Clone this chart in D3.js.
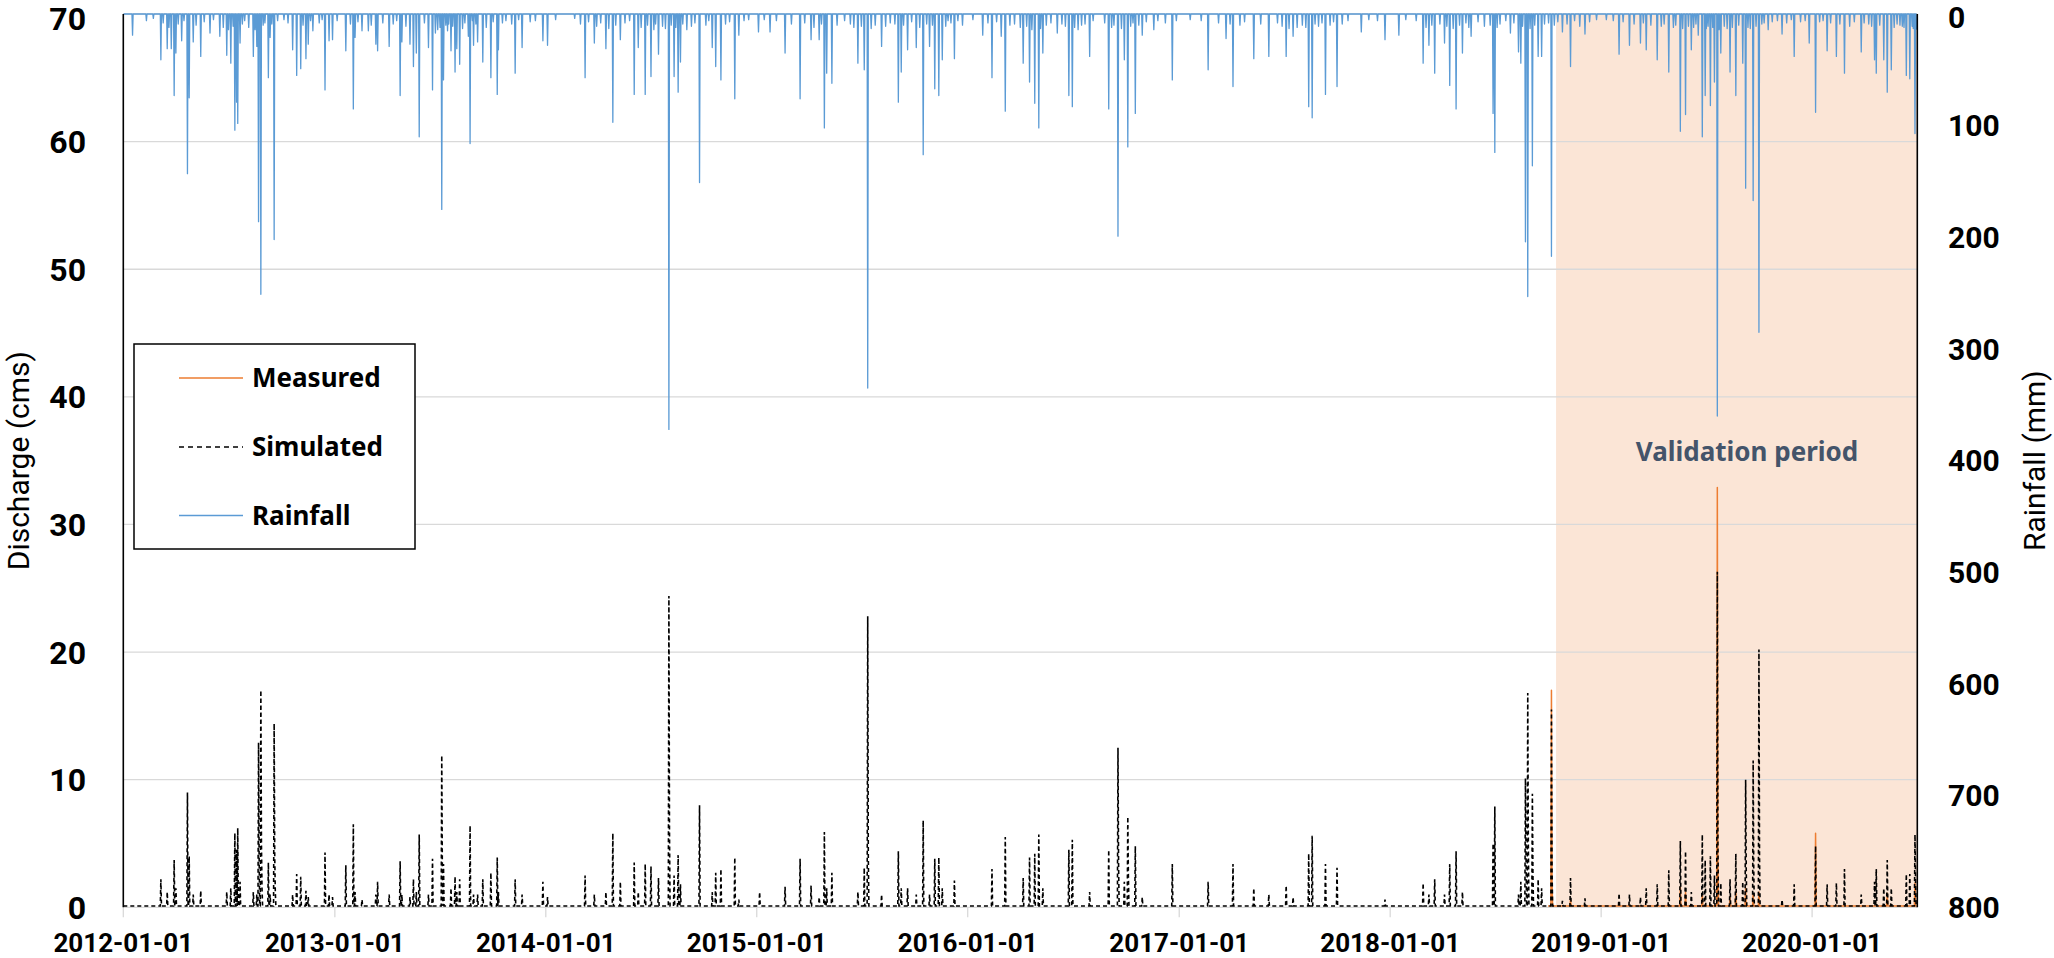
<!DOCTYPE html>
<html><head><meta charset="utf-8">
<script src="https://cdn.jsdelivr.net/npm/d3@7"></script>
<style>body{margin:0;background:#fff;} svg{display:block;font-family:"Noto Sans",sans-serif;} .tk{font-family:Roboto,"Noto Sans",sans-serif;}</style>
</head><body><svg id="c" width="2054" height="958"></svg>
<script>
// ---------------- DATA ----------------
const startDate = "2012-01-01";
const endDate = "2020-07-01";
const validationStart = "2018-10-15";
const measuredStart = "2018-10-01";
const xTickLabels = ["2012-01-01","2013-01-01","2014-01-01","2015-01-01","2016-01-01","2017-01-01","2018-01-01","2019-01-01","2020-01-01"];
const leftTicks = [0,10,20,30,40,50,60,70];
const rightTicks = [0,100,200,300,400,500,600,700,800];
const seriesNames = ["Measured","Simulated","Rainfall"];

// daily rainfall events (mm); unlisted days = 0
const rainMajor = [
["2012-01-17",19],["2012-03-06",41],["2012-03-17",31],["2012-03-24",31],["2012-03-29",73],["2012-04-01",35],["2012-04-11",24],["2012-04-21",143],["2012-04-24",75],["2012-05-01",25],["2012-05-14",38],["2012-05-30",17],["2012-06-16",20],["2012-06-28",37],["2012-07-05",44],["2012-07-12",104],["2012-07-15",79],["2012-07-17",98],["2012-07-21",26],["2012-08-13",38],["2012-08-19",29],["2012-08-22",186],["2012-08-26",251],["2012-09-08",57],["2012-09-11",21],["2012-09-18",202],["2012-10-20",32],["2012-10-27",55],["2012-11-03",49],["2012-11-12",40],["2012-11-16",27],["2012-11-24",15],["2012-12-15",68],["2012-12-22",24],["2012-12-28",23],
["2013-01-20",33],["2013-02-02",85],["2013-02-05",21],["2013-02-17",15],["2013-02-28",15],["2013-03-13",27],["2013-03-16",33],["2013-04-05",29],["2013-04-24",73],["2013-04-27",25],["2013-05-11",27],["2013-05-17",47],["2013-05-22",35],["2013-05-27",110],["2013-06-12",30],["2013-06-19",68],["2013-06-24",17],["2013-07-05",175],["2013-07-08",59],["2013-07-21",33],["2013-07-28",52],["2013-07-31",31],["2013-08-05",45],["2013-08-20",20],["2013-08-23",116],["2013-08-29",28],["2013-09-05",25],["2013-09-14",43],["2013-09-28",57],["2013-10-09",72],["2013-10-11",32],["2013-11-09",53],["2013-11-21",30],["2013-12-27",24],
["2014-01-04",28],["2014-03-10",57],["2014-03-26",26],["2014-04-15",31],["2014-04-27",97],["2014-05-10",23],["2014-06-03",72],["2014-06-10",30],["2014-06-22",72],["2014-07-02",56],["2014-07-15",36],["2014-08-02",372],["2014-08-11",56],["2014-08-18",70],["2014-08-22",43],["2014-09-24",151],["2014-10-16",30],["2014-10-22",47],["2014-10-31",59],["2014-11-24",76],["2014-12-01",19],
["2015-01-04",16],["2015-01-24",16],["2015-02-19",35],["2015-03-17",76],["2015-04-05",23],["2015-04-19",23],["2015-04-28",102],["2015-05-02",53],["2015-05-11",62],["2015-06-25",44],["2015-07-06",50],["2015-07-12",335],["2015-08-05",29],["2015-09-03",79],["2015-09-08",52],["2015-09-19",32],["2015-10-04",30],["2015-10-16",126],["2015-10-27",29],["2015-11-05",67],["2015-11-12",73],["2015-11-18",41],["2015-12-09",40],["2015-12-23",10],
["2016-01-27",19],["2016-02-12",57],["2016-02-28",20],["2016-03-06",87],["2016-04-06",44],["2016-04-17",61],["2016-04-26",80],["2016-05-03",102],["2016-05-10",35],["2016-06-04",17],["2016-06-24",73],["2016-06-30",83],["2016-07-30",38],["2016-09-01",85],["2016-09-17",199],["2016-09-28",41],["2016-10-04",119],["2016-10-17",89],["2016-10-29",19],["2016-11-18",14],["2016-12-20",59],
["2017-02-20",50],["2017-03-23",22],["2017-04-04",65],["2017-05-10",40],["2017-06-05",38],["2017-07-05",38],["2017-07-17",20],["2017-08-13",83],["2017-08-19",93],["2017-09-11",72],["2017-10-01",65],["2017-11-12",16],["2017-12-23",23],
["2018-01-16",19],["2018-02-27",44],["2018-03-09",28],["2018-03-19",53],["2018-04-05",26],["2018-04-14",64],["2018-04-25",85],["2018-05-06",35],["2018-05-21",20],["2018-06-13",11],["2018-06-28",89],["2018-07-01",124],["2018-07-28",17],["2018-08-11",34],["2018-08-15",44],["2018-08-23",204],["2018-08-27",253],["2018-09-04",136],["2018-09-14",38],["2018-09-20",38],["2018-10-07",217],["2018-10-26",16],["2018-11-09",47],["2018-11-25",11],["2018-12-04",18],
["2019-02-01",36],["2019-02-19",28],["2019-03-10",26],["2019-03-20",32],["2019-04-08",41],["2019-04-28",52],["2019-05-18",105],["2019-05-27",90],["2019-06-06",32],["2019-06-18",19],["2019-06-25",110],["2019-06-30",73],["2019-07-09",82],["2019-07-16",61],["2019-07-21",360],["2019-07-27",35],["2019-08-12",52],["2019-08-22",73],["2019-09-03",44],["2019-09-08",156],["2019-09-21",167],["2019-10-01",285],["2019-10-17",14],["2019-11-10",18],["2019-12-01",38],["2019-12-27",26],
["2020-01-07",88],["2020-01-27",33],["2020-02-12",38],["2020-02-26",53],["2020-03-06",11],["2020-03-26",34],["2020-04-18",41],["2020-04-21",53],["2020-05-04",41],["2020-05-10",70],["2020-05-17",50],["2020-06-05",11],["2020-06-12",55],["2020-06-18",58],["2020-06-27",107]
];
const rainMinor = [
["2012-02-10",6],["2012-02-22",4],["2012-03-10",8],["2012-03-20",12],["2012-04-05",9],["2012-04-15",6],["2012-05-06",10],["2012-05-20",7],["2012-06-05",5],["2012-06-22",12],["2012-07-01",14],["2012-07-09",11],["2012-07-25",9],["2012-07-29",6],["2012-08-05",12],["2012-08-16",14],["2012-08-30",10],["2012-09-02",8],["2012-09-14",9],["2012-09-24",6],["2012-10-05",5],["2012-10-12",8],["2012-11-07",10],["2012-11-20",6],["2012-12-05",8],["2012-12-10",5],
["2013-01-05",6],["2013-01-28",9],["2013-02-10",7],["2013-03-05",10],["2013-03-25",8],["2013-04-12",9],["2013-04-18",6],["2013-05-04",11],["2013-06-05",8],["2013-06-28",14],["2013-07-02",12],["2013-07-12",10],["2013-07-15",15],["2013-07-17",9],["2013-07-24",11],["2013-08-10",13],["2013-08-14",8],["2013-08-27",6],["2013-09-02",9],["2013-09-20",12],["2013-10-02",7],["2013-10-18",8],["2013-10-24",6],["2013-11-03",9],["2013-11-15",5],["2013-12-05",7],["2013-12-14",6],
["2014-01-18",5],["2014-02-20",4],["2014-03-02",9],["2014-03-16",7],["2014-03-30",11],["2014-04-06",8],["2014-04-20",13],["2014-05-02",10],["2014-05-18",8],["2014-05-26",6],["2014-06-15",12],["2014-06-26",10],["2014-07-07",14],["2014-07-10",9],["2014-07-22",11],["2014-07-27",13],["2014-08-06",10],["2014-08-14",12],["2014-08-26",9],["2014-09-02",14],["2014-09-10",11],["2014-09-16",8],["2014-10-05",10],["2014-10-10",6],["2014-11-08",9],["2014-11-15",7],["2014-12-10",6],["2014-12-18",5],
["2015-01-14",5],["2015-02-04",6],["2015-03-02",9],["2015-03-25",8],["2015-04-10",12],["2015-04-23",9],["2015-05-20",10],["2015-06-02",6],["2015-06-12",9],["2015-06-18",12],["2015-07-01",11],["2015-07-18",13],["2015-07-25",10],["2015-08-12",11],["2015-08-20",8],["2015-08-28",9],["2015-09-12",10],["2015-09-26",7],["2015-10-10",12],["2015-10-22",9],["2015-11-01",10],["2015-11-24",11],["2015-11-28",6],["2015-12-03",8],["2015-12-15",6],
["2016-01-10",5],["2016-02-05",8],["2016-02-20",7],["2016-03-14",10],["2016-03-22",9],["2016-04-01",12],["2016-04-12",11],["2016-04-21",14],["2016-05-06",13],["2016-05-16",10],["2016-05-24",8],["2016-06-12",9],["2016-06-18",11],["2016-07-04",12],["2016-07-10",14],["2016-07-16",10],["2016-07-22",9],["2016-08-05",6],["2016-08-25",8],["2016-09-06",12],["2016-09-10",10],["2016-09-23",13],["2016-10-09",11],["2016-10-13",8],["2016-10-23",10],["2016-11-05",7],["2016-11-25",6],["2016-12-08",8],["2016-12-27",6],
["2017-01-20",5],["2017-02-08",6],["2017-03-10",8],["2017-03-30",9],["2017-04-16",10],["2017-04-24",7],["2017-05-22",9],["2017-06-20",8],["2017-06-28",11],["2017-07-10",13],["2017-07-24",12],["2017-08-02",10],["2017-08-08",12],["2017-08-24",9],["2017-08-30",11],["2017-09-05",8],["2017-09-19",10],["2017-09-25",7],["2017-10-10",9],["2017-10-20",6],["2017-11-25",5],["2017-12-10",6],
["2018-01-28",5],["2018-02-15",6],["2018-03-04",12],["2018-03-14",10],["2018-03-28",9],["2018-04-09",11],["2018-04-20",13],["2018-05-01",10],["2018-05-12",8],["2018-05-17",12],["2018-06-02",7],["2018-06-23",10],["2018-07-05",12],["2018-07-10",9],["2018-07-20",6],["2018-08-03",8],["2018-08-18",11],["2018-08-31",13],["2018-09-08",10],["2018-09-25",9],["2018-10-02",8],["2018-10-12",10],["2018-10-18",7],["2018-11-03",9],["2018-11-16",6],["2018-12-12",7],["2018-12-24",5],
["2019-01-10",5],["2019-01-22",6],["2019-02-08",7],["2019-02-27",9],["2019-03-15",8],["2019-03-28",10],["2019-04-15",11],["2019-04-20",9],["2019-05-06",12],["2019-05-10",10],["2019-05-22",13],["2019-06-01",11],["2019-06-10",12],["2019-06-14",9],["2019-07-02",13],["2019-07-05",11],["2019-07-13",12],["2019-07-24",14],["2019-08-02",11],["2019-08-07",13],["2019-08-16",12],["2019-08-27",10],["2019-09-12",12],["2019-09-16",13],["2019-09-26",11],["2019-10-06",9],["2019-10-10",8],["2019-10-24",7],["2019-11-02",6],["2019-11-18",8],["2019-11-26",5],["2019-12-12",7],["2019-12-20",6],
["2020-01-14",7],["2020-01-20",6],["2020-02-02",8],["2020-02-18",9],["2020-03-14",7],["2020-03-31",8],["2020-04-08",9],["2020-04-13",11],["2020-04-27",10],["2020-05-22",12],["2020-05-27",9],["2020-06-01",10],["2020-06-08",12],["2020-06-22",11],["2020-06-24",13],["2020-06-30",14]
];

// simulated discharge (cms); unlisted days sit on the baseline
const simulatedBaseline = 0.1;
const simulated = [
["2012-03-06",2.2],["2012-03-17",1.2],["2012-03-29",3.7],["2012-04-01",1.5],["2012-04-21",9.0],["2012-04-24",4.0],["2012-05-01",1.0],["2012-05-14",1.3],["2012-06-28",1.2],["2012-07-05",1.5],["2012-07-12",5.8],["2012-07-15",4.5],["2012-07-17",6.2],["2012-07-21",2.0],["2012-08-13",1.2],["2012-08-19",1.0],["2012-08-22",12.9],["2012-08-23",4.0],["2012-08-26",17.0],["2012-08-27",5.0],["2012-08-28",1.5],["2012-09-08",3.5],["2012-09-11",1.0],["2012-09-18",14.4],["2012-09-19",4.0],["2012-09-20",1.2],["2012-10-20",1.0],["2012-10-27",2.6],["2012-11-03",2.4],["2012-11-12",1.3],["2012-11-16",0.8],["2012-12-15",4.3],["2012-12-22",1.0],["2012-12-28",0.8],
["2013-01-20",3.3],["2013-02-02",6.5],["2013-02-05",1.2],["2013-02-17",0.6],["2013-03-13",1.0],["2013-03-16",2.0],["2013-04-05",1.0],["2013-04-24",3.6],["2013-04-27",1.0],["2013-05-11",0.8],["2013-05-17",2.2],["2013-05-22",1.2],["2013-05-27",5.7],["2013-06-12",1.0],["2013-06-19",3.8],["2013-07-05",11.9],["2013-07-06",3.0],["2013-07-08",3.4],["2013-07-21",1.5],["2013-07-28",2.4],["2013-07-31",1.2],["2013-08-05",2.2],["2013-08-23",6.4],["2013-08-29",1.0],["2013-09-05",1.0],["2013-09-14",2.2],["2013-09-28",2.7],["2013-10-09",3.9],["2013-10-11",1.2],["2013-11-09",2.2],["2013-11-21",1.0],["2013-12-27",2.0],
["2014-01-04",0.8],["2014-03-10",2.5],["2014-03-26",1.0],["2014-04-15",1.2],["2014-04-27",5.8],["2014-05-10",2.0],["2014-06-03",3.5],["2014-06-10",1.2],["2014-06-22",3.4],["2014-07-02",3.2],["2014-07-15",2.3],["2014-08-02",24.4],["2014-08-03",6.0],["2014-08-11",2.5],["2014-08-18",4.1],["2014-08-22",1.8],["2014-09-24",8.0],["2014-10-16",1.2],["2014-10-22",2.7],["2014-10-31",3.0],["2014-11-24",3.9],["2014-12-01",0.6],
["2015-01-06",1.2],["2015-02-19",1.6],["2015-03-17",3.8],["2015-04-05",1.7],["2015-04-19",0.8],["2015-04-28",5.9],["2015-05-02",1.5],["2015-05-11",2.7],["2015-06-25",1.2],["2015-07-06",3.1],["2015-07-12",22.8],["2015-07-13",4.0],["2015-08-05",1.0],["2015-09-03",4.4],["2015-09-08",1.5],["2015-09-19",1.5],["2015-10-04",1.0],["2015-10-16",6.8],["2015-10-27",1.0],["2015-11-05",3.8],["2015-11-12",3.9],["2015-11-18",1.5],["2015-12-09",2.1],
["2016-02-12",3.0],["2016-03-06",5.5],["2016-04-06",2.3],["2016-04-17",3.9],["2016-04-26",4.2],["2016-05-03",5.7],["2016-05-10",1.5],["2016-06-24",4.5],["2016-06-30",5.3],["2016-07-30",1.2],["2016-09-01",4.5],["2016-09-17",12.5],["2016-09-18",3.5],["2016-09-28",2.0],["2016-10-04",7.1],["2016-10-05",2.5],["2016-10-17",4.8],["2016-10-29",0.8],["2016-12-20",3.4],
["2017-02-20",2.0],["2017-04-04",3.4],["2017-05-10",1.5],["2017-06-05",1.0],["2017-07-05",1.7],["2017-07-17",0.8],["2017-08-13",4.2],["2017-08-19",5.6],["2017-09-11",3.4],["2017-10-01",3.1],["2017-12-23",0.6],
["2018-02-27",1.9],["2018-03-09",1.0],["2018-03-19",2.2],["2018-04-05",1.0],["2018-04-14",3.4],["2018-04-25",4.4],["2018-05-06",1.2],["2018-06-28",5.0],["2018-07-01",7.9],["2018-08-11",1.0],["2018-08-15",2.0],["2018-08-23",10.1],["2018-08-24",4.0],["2018-08-27",16.8],["2018-08-28",5.0],["2018-09-04",8.9],["2018-09-05",2.5],["2018-09-14",2.2],["2018-09-20",1.5],["2018-10-07",15.5],["2018-10-08",3.0],["2018-10-26",0.5],["2018-11-09",2.3],["2018-12-04",0.7],
["2019-02-01",1.1],["2019-02-19",1.0],["2019-03-10",0.8],["2019-03-20",1.5],["2019-04-08",1.8],["2019-04-28",2.9],["2019-05-18",5.2],["2019-05-27",4.4],["2019-06-06",1.2],["2019-06-25",5.7],["2019-06-30",3.7],["2019-07-09",4.0],["2019-07-16",2.5],["2019-07-21",26.3],["2019-07-22",5.0],["2019-07-27",1.9],["2019-08-12",2.2],["2019-08-22",4.2],["2019-09-03",2.0],["2019-09-08",10.0],["2019-09-09",3.0],["2019-09-21",11.5],["2019-09-22",3.0],["2019-10-01",20.2],["2019-10-02",4.0],["2019-11-10",0.6],["2019-12-01",1.8],
["2020-01-07",4.8],["2020-01-27",1.8],["2020-02-12",1.9],["2020-02-26",3.0],["2020-03-26",1.0],["2020-04-18",2.0],["2020-04-21",3.0],["2020-05-04",1.5],["2020-05-10",3.7],["2020-05-17",1.5],["2020-06-12",2.6],["2020-06-18",2.6],["2020-06-27",5.7],["2020-06-28",2.0]
];

// measured discharge (cms), available from measuredStart
const measuredBaseline = 0.1;
const measured = [
["2018-10-07",17.0],["2018-10-08",2.0],["2018-11-09",0.6],["2019-05-18",1.6],["2019-05-27",1.2],["2019-06-25",1.0],["2019-07-21",32.9],["2019-07-22",4.0],["2019-08-12",0.8],["2019-08-22",1.2],["2019-09-08",1.5],["2019-09-21",1.0],["2019-10-01",1.2],["2020-01-07",5.8],["2020-05-10",1.1],["2020-06-27",1.9]
];

// ---------------- CHART ----------------
const svg = d3.select("#c");
const m = {left:123.3, right:1917.3, top:14, bottom:907.3};
const parse = d3.timeParse("%Y-%m-%d"), fmt = d3.timeFormat("%Y-%m-%d");
const start = parse(startDate), end = parse(endDate);
const x = d3.scaleTime().domain([start, end]).range([m.left, m.right]);
const yL = d3.scaleLinear().domain([0,70]).range([m.bottom, m.top]);
const yR = d3.scaleLinear().domain([0,800]).range([m.top, m.bottom]);
const days = d3.timeDay.range(start, end);

const rainMap = new Map(rainMinor.concat(rainMajor));
const simMap = new Map(simulated);
const measMap = new Map(measured);
const rainSeries = days.map(d => ({d, v: rainMap.get(fmt(d)) || 0}));
const simSeries = days.map(d => ({d, v: simMap.has(fmt(d)) ? simMap.get(fmt(d)) : simulatedBaseline}));
const mStart = parse(measuredStart);
const measSeries = days.filter(d => d >= mStart).map(d => ({d, v: measMap.has(fmt(d)) ? measMap.get(fmt(d)) : measuredBaseline}));

svg.append("defs").append("clipPath").attr("id","clip").append("rect")
  .attr("x", m.left).attr("y", m.top - 2).attr("width", m.right - m.left).attr("height", m.bottom - m.top + 4);

// validation shading
svg.append("rect")
  .attr("x", x(parse(validationStart))).attr("y", yL(70))
  .attr("width", x(end) - x(parse(validationStart))).attr("height", yL(0) - yL(70))
  .attr("fill", "#FBE5D6");

// gridlines
svg.append("g").selectAll("line").data(leftTicks).join("line")
  .attr("x1", m.left).attr("x2", m.right)
  .attr("y1", d => yL(d)).attr("y2", d => yL(d))
  .attr("stroke", "#D9D9D9").attr("stroke-width", 1.3);

// x ticks (gray)
svg.append("g").selectAll("line").data(xTickLabels).join("line")
  .attr("x1", d => x(parse(d))).attr("x2", d => x(parse(d)))
  .attr("y1", yL(0)).attr("y2", yL(0) + 10)
  .attr("stroke", "#D9D9D9").attr("stroke-width", 1.3);

const plot = svg.append("g").attr("clip-path", "url(#clip)");
const lineL = d3.line().x(p => x(p.d)).y(p => yL(p.v));
const lineR = d3.line().x(p => x(p.d)).y(p => yR(p.v));

plot.append("path").datum(measSeries).attr("d", lineL)
  .attr("fill", "none").attr("stroke", "#ED7D31").attr("stroke-width", 1.5).attr("stroke-linejoin","round");
plot.append("path").datum(simSeries).attr("d", lineL)
  .attr("fill", "none").attr("stroke", "#000").attr("stroke-width", 1.6).attr("stroke-dasharray", "4,3");
plot.append("path").datum(rainSeries).attr("d", lineR)
  .attr("fill", "none").attr("stroke", "#5B9BD5").attr("stroke-width", 1.3).attr("stroke-linejoin","round");

// axis lines
svg.append("line").attr("x1", m.left).attr("x2", m.left).attr("y1", m.top).attr("y2", m.bottom)
  .attr("stroke", "#000").attr("stroke-width", 1.6);
svg.append("line").attr("x1", m.right).attr("x2", m.right).attr("y1", m.top).attr("y2", m.bottom)
  .attr("stroke", "#000").attr("stroke-width", 1.6);

// tick labels (baseline kept inside the picture at the top edge)
const fsL = 32, fsR = 30, fsX = 26;
svg.append("g").attr("class","tk").selectAll("text").data(leftTicks).join("text")
  .attr("x", 86).attr("y", d => Math.max(yL(d) + 0.36*fsL, Math.ceil(0.93*fsL)))
  .attr("text-anchor", "end").attr("font-size", fsL).attr("font-weight", "bold").attr("fill","#000")
  .text(d => d);
svg.append("g").attr("class","tk").selectAll("text").data(rightTicks).join("text")
  .attr("x", 1948).attr("y", d => Math.max(yR(d) + 0.36*fsR, Math.ceil(0.93*fsR)))
  .attr("text-anchor", "start").attr("font-size", fsR).attr("font-weight", "bold").attr("fill","#000")
  .text(d => d);
svg.append("g").attr("class","tk").selectAll("text").data(xTickLabels).join("text")
  .attr("x", d => x(parse(d))).attr("y", 951.5)
  .attr("text-anchor", "middle").attr("font-size", fsX).attr("font-weight", "bold").attr("fill","#000")
  .text(d => d);

// axis titles
svg.append("text").attr("class","tk").attr("transform", `translate(29,${(m.top+m.bottom)/2}) rotate(-90)`)
  .attr("text-anchor","middle").attr("font-size", 30).attr("fill","#000").text("Discharge (cms)");
svg.append("text").attr("class","tk").attr("transform", `translate(2045,${(m.top+m.bottom)/2}) rotate(-90)`)
  .attr("text-anchor","middle").attr("font-size", 30).attr("fill","#000").text("Rainfall (mm)");

// validation label
svg.append("text").attr("x", 1747).attr("y", 461)
  .attr("text-anchor","middle").attr("font-size", 26).attr("font-weight","bold").attr("fill","#44546A")
  .text("Validation period");

// legend
const lg = svg.append("g");
lg.append("rect").attr("x", 134).attr("y", 344).attr("width", 281).attr("height", 205)
  .attr("fill", "#fff").attr("stroke", "#000").attr("stroke-width", 1.5);
const legY = [378, 447, 515.5];
const legStyle = [
  {c:"#ED7D31", dash:null}, {c:"#000", dash:"5,4"}, {c:"#5B9BD5", dash:null}
];
seriesNames.forEach((n,i) => {
  lg.append("line").attr("x1", 179).attr("x2", 243).attr("y1", legY[i]).attr("y2", legY[i])
    .attr("stroke", legStyle[i].c).attr("stroke-width", 1.6).attr("stroke-dasharray", legStyle[i].dash);
  lg.append("text").attr("x", 252).attr("y", legY[i]).attr("dy","0.36em")
    .attr("font-size", 26).attr("font-weight","bold").attr("fill","#000").text(n);
});
</script></body></html>
